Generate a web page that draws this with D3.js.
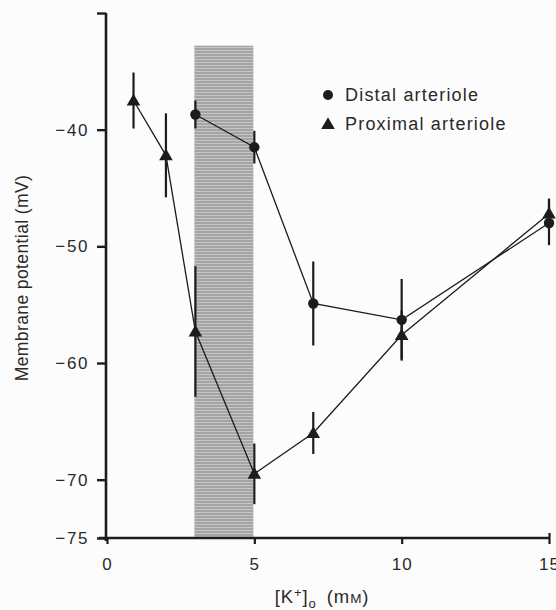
<!DOCTYPE html>
<html>
<head>
<meta charset="utf-8">
<script src="https://cdn.jsdelivr.net/npm/d3@7"></script>
<style>
  body { margin: 0; background: #fcfcfc; }
  svg { display: block; font-family: "Liberation Sans", Arial, sans-serif; }
</style>
</head>
<body>
<svg id="chart" width="556" height="610"></svg>
<script>
// [K+]o in mM, membrane potential in mV (mean ± error)
const distalK = [3, 5, 7, 10, 15];
const distalMean = [-38.7, -41.5, -54.9, -56.3, -48.0];
const distalErr = [1.2, 1.4, 3.6, 3.5, 1.9];

const proximalK = [0.9, 2, 3, 5, 7, 10, 15];
const proximalMean = [-37.5, -42.2, -57.3, -69.5, -66.0, -57.6, -47.2];
const proximalErr = [2.4, 3.6, 5.6, 2.6, 1.8, 2.1, 1.3];

const xTicks = [0, 5, 10, 15];
const yTicks = [-75, -70, -60, -50, -40, -30];
const bandK = [3, 5];
const bandTop = -32.8;

const svg = d3.select('#chart');
const x = d3.scaleLinear([0, 15], [107, 549]);
const y = d3.scaleLinear([-75, -30], [538, 13]);
const ink = '#1c1c1c';
const textInk = '#2a2a2a';

// shaded band (horizontal hatch texture)
const pat = svg.append('defs').append('pattern')
  .attr('id', 'hatch').attr('patternUnits', 'userSpaceOnUse')
  .attr('width', 4).attr('height', 3);
pat.append('rect').attr('width', 4).attr('height', 3).attr('fill', '#c6c6c6');
pat.append('rect').attr('width', 4).attr('height', 2).attr('fill', '#a4a4a4');

svg.append('rect')
  .attr('x', x(bandK[0]) - 1)
  .attr('y', y(bandTop))
  .attr('width', x(bandK[1]) - x(bandK[0]))
  .attr('height', y(-75) - y(bandTop))
  .attr('fill', 'url(#hatch)');

// axes
const yAxis = d3.axisLeft(y).tickValues(yTicks).tickSize(9).tickPadding(8)
  .tickFormat(d => d === -30 ? '' : '\u2212' + Math.abs(d));
const gy = svg.append('g').attr('transform', `translate(${x(0) - 1},0)`).call(yAxis);
gy.select('.domain').attr('stroke', ink).attr('stroke-width', 2.6).attr('d', `M0,${y(-30)}V${y(-75) + 3}`);
gy.selectAll('.tick line').attr('stroke', ink).attr('stroke-width', 2.4);
gy.selectAll('.tick text').attr('fill', textInk).attr('font-size', 17)
  .attr('font-family', '"Liberation Sans", Arial, sans-serif').attr('letter-spacing', 1.6);

const xAxis = d3.axisBottom(x).tickValues(xTicks).tickSize(6).tickPadding(14);
const gx = svg.append('g').attr('transform', `translate(0,${y(-75)})`).call(xAxis);
gx.select('.domain').attr('stroke', ink).attr('stroke-width', 2.6).attr('d', `M${x(0) - 8},0H${x(15) + 1}`);
gx.selectAll('.tick line').attr('stroke', ink).attr('stroke-width', 2.2).attr('y1', d => d === 15 ? -5 : 0);
gx.selectAll('.tick text').attr('fill', textInk).attr('font-size', 17)
  .attr('font-family', '"Liberation Sans", Arial, sans-serif').attr('letter-spacing', 1);

// axis titles
svg.append('text')
  .attr('transform', 'translate(28,278) rotate(-90)')
  .attr('text-anchor', 'middle')
  .attr('font-size', 17.5).attr('fill', textInk).attr('letter-spacing', 0.4)
  .text('Membrane potential (mV)');

const xl = svg.append('text')
  .attr('x', 322).attr('y', 603)
  .attr('text-anchor', 'middle')
  .attr('font-size', 18.5).attr('fill', textInk).attr('letter-spacing', 0.9);
xl.append('tspan').text('[K');
xl.append('tspan').attr('font-size', 13).attr('dy', -6).text('+');
xl.append('tspan').attr('dy', 6).text(']');
xl.append('tspan').attr('font-size', 13).attr('dy', 5).text('o');
xl.append('tspan').attr('dy', -5).text('\u2002(m');
xl.append('tspan').attr('font-size', 13.5).text('M');
xl.append('tspan').text(')');

// series
const distal = distalK.map((k, i) => ({ k, v: distalMean[i], e: distalErr[i] }));
const proximal = proximalK.map((k, i) => ({ k, v: proximalMean[i], e: proximalErr[i] }));
const line = d3.line().x(d => x(d.k)).y(d => y(d.v));

[proximal, distal].forEach(series => {
  svg.append('path').datum(series)
    .attr('fill', 'none').attr('stroke', ink).attr('stroke-width', 1.3)
    .attr('d', line);
  svg.append('g').selectAll('line').data(series).join('line')
    .attr('x1', d => x(d.k)).attr('x2', d => x(d.k))
    .attr('y1', d => y(d.v + d.e)).attr('y2', d => y(d.v - d.e))
    .attr('stroke', ink).attr('stroke-width', 2.2);
});

const tri = d3.symbol(d3.symbolTriangle, 80);
svg.append('g').selectAll('path').data(proximal).join('path')
  .attr('transform', d => `translate(${x(d.k)},${y(d.v) + 1})`)
  .attr('d', tri).attr('fill', ink);

svg.append('g').selectAll('circle').data(distal).join('circle')
  .attr('cx', d => x(d.k)).attr('cy', d => y(d.v)).attr('r', 5.2)
  .attr('fill', ink);

// legend
const legend = svg.append('g').attr('font-size', 18).attr('fill', textInk);
legend.append('circle').attr('cx', 328).attr('cy', 95).attr('r', 5).attr('fill', ink);
legend.append('path').attr('transform', 'translate(328,125)').attr('d', tri).attr('fill', ink);
legend.append('text').attr('x', 345).attr('y', 101).attr('letter-spacing', 1.2).text('Distal arteriole');
legend.append('text').attr('x', 345).attr('y', 130).attr('letter-spacing', 1.2).text('Proximal arteriole');
</script>
</body>
</html>
